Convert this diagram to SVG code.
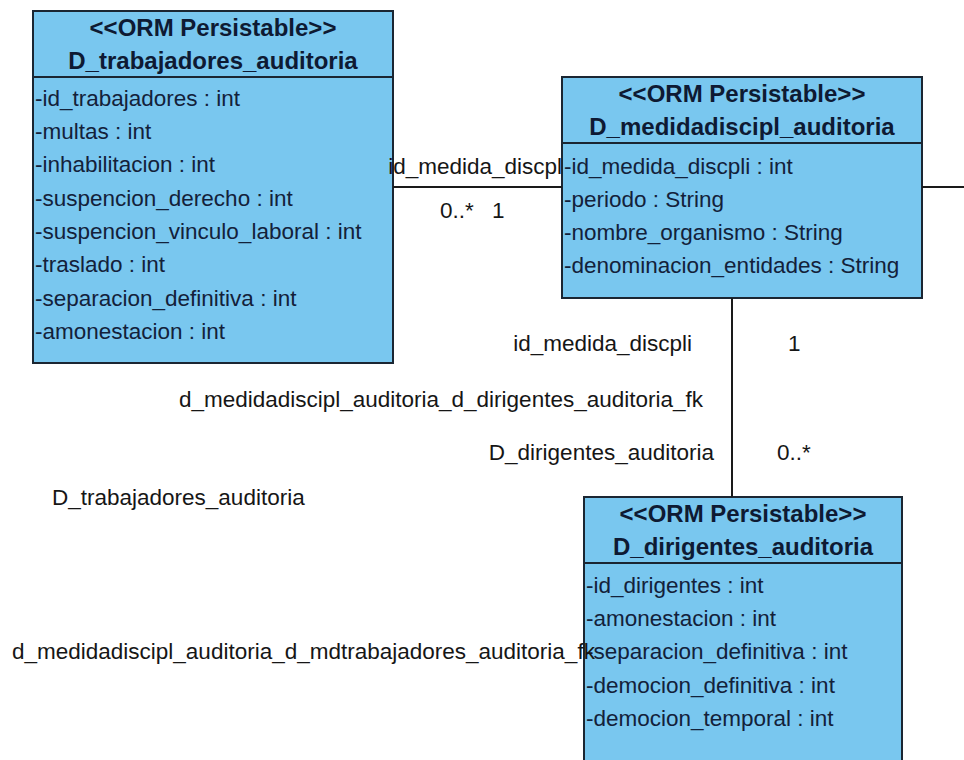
<svg xmlns="http://www.w3.org/2000/svg" width="964" height="760" viewBox="0 0 964 760">
  <style>
    .box { fill: #79c7ef; stroke: #1b2632; stroke-width: 2; }
    .sep { stroke: #1b2632; stroke-width: 2; }
    .head { font-family: "Liberation Sans", Arial, sans-serif; font-weight: bold; font-size: 24px; fill: #0e1a33; text-anchor: middle; }
    .attr { font-family: "Liberation Sans", Arial, sans-serif; font-size: 22.5px; fill: #13213a; }
    .lbl { font-family: "Liberation Sans", Arial, sans-serif; font-size: 22.5px; fill: #161616; }
    .end { text-anchor: end; }
    .edge { stroke: #1a1a1a; stroke-width: 2; fill: none; }
  </style>
  <rect width="964" height="760" fill="#ffffff"/>

  <!-- class D_trabajadores_auditoria -->
  <g id="D_trabajadores_auditoria">
    <rect class="box" x="33" y="11" width="360" height="352"/>
    <line class="sep" x1="33" y1="77" x2="393" y2="77"/>
    <text class="head" x="213" y="36">&lt;&lt;ORM Persistable&gt;&gt;</text>
    <text class="head" x="213" y="69">D_trabajadores_auditoria</text>
    <text class="attr" x="35" y="106">-id_trabajadores : int</text>
    <text class="attr" x="35" y="139">-multas : int</text>
    <text class="attr" x="35" y="172">-inhabilitacion : int</text>
    <text class="attr" x="35" y="206">-suspencion_derecho : int</text>
    <text class="attr" x="35" y="239">-suspencion_vinculo_laboral : int</text>
    <text class="attr" x="35" y="272">-traslado : int</text>
    <text class="attr" x="35" y="306">-separacion_definitiva : int</text>
    <text class="attr" x="35" y="339">-amonestacion : int</text>
  </g>

  <!-- class D_medidadiscipl_auditoria -->
  <g id="D_medidadiscipl_auditoria">
    <rect class="box" x="562" y="77" width="360" height="221"/>
    <line class="sep" x1="562" y1="143" x2="922" y2="143"/>
    <text class="head" x="742" y="102">&lt;&lt;ORM Persistable&gt;&gt;</text>
    <text class="head" x="742" y="135">D_medidadiscipl_auditoria</text>
    <text class="attr" x="564" y="174">-id_medida_discpli : int</text>
    <text class="attr" x="564" y="207">-periodo : String</text>
    <text class="attr" x="564" y="240">-nombre_organismo : String</text>
    <text class="attr" x="564" y="273">-denominacion_entidades : String</text>
  </g>

  <!-- class D_dirigentes_auditoria -->
  <g id="D_dirigentes_auditoria">
    <rect class="box" x="584" y="497" width="318" height="280"/>
    <line class="sep" x1="584" y1="563" x2="902" y2="563"/>
    <text class="head" x="743" y="522">&lt;&lt;ORM Persistable&gt;&gt;</text>
    <text class="head" x="743" y="555">D_dirigentes_auditoria</text>
    <text class="attr" x="586" y="593">-id_dirigentes : int</text>
    <text class="attr" x="586" y="626">-amonestacion : int</text>
    <text class="attr" x="586" y="659">-separacion_definitiva : int</text>
    <text class="attr" x="586" y="693">-democion_definitiva : int</text>
    <text class="attr" x="586" y="726">-democion_temporal : int</text>
  </g>

  <!-- associations and their role / multiplicity labels -->
  <g id="connectors">
    <line class="edge" x1="393" y1="187" x2="562" y2="187"/>
    <line class="edge" x1="732" y1="298" x2="732" y2="497"/>
    <line class="edge" x1="922" y1="187" x2="964" y2="187"/>

    <text class="lbl end" x="562" y="174">id_medida_discpl</text>
    <text class="lbl" x="440" y="218">0..*</text>
    <text class="lbl" x="492" y="218">1</text>

    <text class="lbl end" x="692" y="351">id_medida_discpli</text>
    <text class="lbl" x="788" y="351">1</text>
    <text class="lbl end" x="703" y="407">d_medidadiscipl_auditoria_d_dirigentes_auditoria_fk</text>
    <text class="lbl end" x="714" y="460">D_dirigentes_auditoria</text>
    <text class="lbl" x="777" y="460">0..*</text>

    <text class="lbl" x="52" y="505">D_trabajadores_auditoria</text>
    <text class="lbl" x="12" y="659">d_medidadiscipl_auditoria_d_mdtrabajadores_auditoria_fk</text>
  </g>
</svg>
